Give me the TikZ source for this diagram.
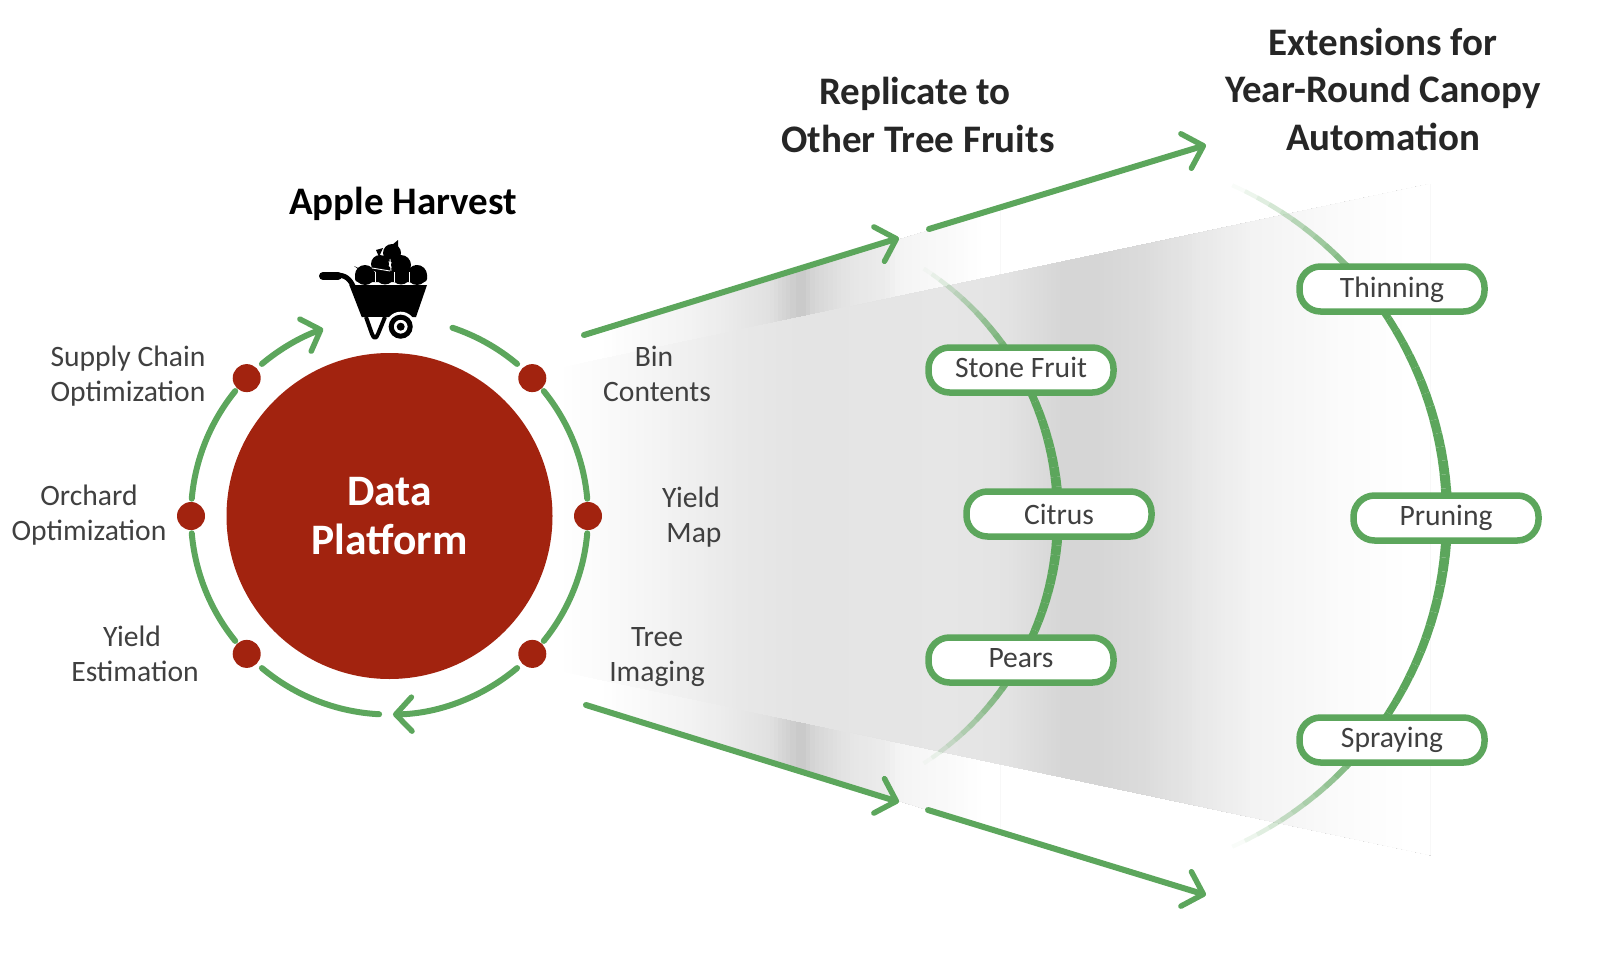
\documentclass[tikz,border=0pt]{standalone}
\usepackage{fontspec}
\setmainfont{Carlito}
\usetikzlibrary{arrows.meta,calc}
\definecolor{lg}{HTML}{5CA65C}
\definecolor{rd}{HTML}{A2230F}
\definecolor{txt}{HTML}{404040}
\definecolor{ttl}{HTML}{262626}
\newcommand{\gradslices}[1]{%
  \foreach \xa/\na/\xb/\nb in {#1}{
    \pgfmathtruncatemacro{\st}{max(1,(\xb-\xa)/4)}
    \foreach \k in {1,...,\st}{
      \pgfmathsetmacro{\xx}{\xa+(\xb-\xa)*(\k-1)/\st}
      \pgfmathsetmacro{\nn}{\na+(\nb-\na)*(\k-0.5)/\st}
      \fill[black!\nn] (\xx,-100) rectangle (1500,-900);
    }
  }
  \fill[white] (\gradend,-100) rectangle (1500,-900);}
\newcommand{\fadearc}[5]{% cx, cy, R, amax, afade
  \foreach \k in {0,...,59}{
    \pgfmathsetmacro{\aS}{-#4+2*#4*\k/60}
    \pgfmathsetmacro{\aE}{-#4+2*#4*(\k+1)/60}
    \pgfmathsetmacro{\aM}{abs(\aS+\aE)/2}
    \pgfmathsetmacro{\op}{min(1,(#4-\aM)/(#4-#5))}
    \pgfmathsetmacro{\wd}{10.5-6.5*\aM/#4}
    \draw[line width=\wd pt,lg,opacity=\op] (#1,#2) ++(\aS:#3) arc[start angle=\aS,end angle=\aE,radius=#3];
  }}
\tikzset{
  ringarc/.style={line width=6pt,lg,line cap=round},
  fanarrow/.style={line width=6pt,lg,line cap=round,-{Straight Barb[length=18pt,width=36pt,line width=5.5pt,round]}},
  ringarrow/.style={line width=6pt,lg,line cap=round,-{Straight Barb[length=16pt,width=34pt,line width=5.5pt,round]}},
  reddot/.style={circle,fill=rd,minimum size=28pt,inner sep=0pt},
  pill/.style={draw=lg,line width=6.5pt,fill=white,rounded corners=21pt,minimum width=185pt,minimum height=45pt,inner sep=0pt,font=\fontsize{29.6}{31}\selectfont,text=txt,text height=20pt,text depth=6pt},
  lab/.style={font=\fontsize{29.6}{35}\selectfont,text=txt,align=center,inner sep=0pt},
  ttlnode/.style={font=\bfseries\fontsize{39}{47.5}\selectfont,text=ttl,align=center,inner sep=0pt}
}
\begin{document}
\begin{tikzpicture}[x=1pt,y=1pt]
\useasboundingbox (0,-955) rectangle (1600,0);
% fans
\def\gradend{985}
\begin{scope}
\clip (584,-335) -- (1000,-209) -- (1000,-277) -- (584,-363) -- cycle;
\gradslices{584/0/600/0,600/0/700/5.5,700/5.5/770/12,770/12/790/18.4,790/18.4/801/21.6,801/21.6/815/16,815/16/850/10,850/10/885/7.5,885/7.5/900/4.3,900/4.3/960/1.5,960/1.5/985/0}
\end{scope}
\begin{scope}
\clip (584,-704) -- (1000,-832) -- (1000,-763) -- (584,-676) -- cycle;
\gradslices{584/0/600/0,600/0/700/5.5,700/5.5/770/12,770/12/790/18.4,790/18.4/801/21.6,801/21.6/815/16,815/16/850/10,850/10/885/7.5,885/7.5/900/4.3,900/4.3/960/1.5,960/1.5/985/0}
\end{scope}
\def\gradend{1410}
\begin{scope}
\clip (560,-368) -- (1430,-184) -- (1430,-855) -- (560,-671) -- cycle;
\gradslices{560/0/640/3.5,640/3.5/700/6.7,700/6.7/740/9,740/9/800/10.6,800/10.6/950/9.8,950/9.8/1000/10.6,1000/10.6/1030/13,1030/13/1060/16,1060/16/1100/16,1100/16/1150/13.7,1150/13.7/1200/9,1200/9/1250/5,1250/5/1330/2,1330/2/1410/0}
\end{scope}
% curved tracks
\fadearc{763}{-516}{295}{57}{30}
\fadearc{1085}{-516}{362}{66}{37}
% fan arrows
\coordinate (u1) at (584,-335);\coordinate (u2) at (899,-238);
\coordinate (u3) at (929,-229);\coordinate (u4) at (1206,-145);
\coordinate (l1) at (586,-705);\coordinate (l2) at (899,-802);
\coordinate (l3) at (928,-810);\coordinate (l4) at (1206,-895);
\draw[fanarrow] (u1) -- (u2);
\draw[fanarrow] (u3) -- (u4);
\draw[fanarrow] (l1) -- (l2);
\draw[fanarrow] (l3) -- (l4);
% core
\coordinate (c) at (389.5,-516);
\node[circle,fill=rd,minimum size=326pt,inner sep=0pt,text=white,align=center,font=\bfseries\fontsize{43.5}{49}\selectfont] (core) at (c) {Data\\Platform};
\foreach \n/\a in {d0/0,d45/44,d135/136,d180/180,d225/224,d315/316}{
  \node[reddot] (\n) at ($(c)+(\a:198.5)$) {};
}
\draw[ringarc] ($(c)+(5:198.5)$) arc[start angle=5,end angle=39,radius=198.5];
\draw[ringarc] ($(c)+(50:198.5)$) arc[start angle=50,end angle=71.5,radius=198.5];
\draw[ringarrow] ($(c)+(130:198.5)$) arc[start angle=130,end angle=109.5,radius=198.5];
\draw[ringarc] ($(c)+(141:198.5)$) arc[start angle=141,end angle=175,radius=198.5];
\draw[ringarc] ($(c)+(185:198.5)$) arc[start angle=185,end angle=219,radius=198.5];
\draw[ringarc] ($(c)+(230:198.5)$) arc[start angle=230,end angle=267,radius=198.5];
\draw[ringarrow] ($(c)+(310:198.5)$) arc[start angle=310,end angle=271,radius=198.5];
\draw[ringarc] ($(c)+(321:198.5)$) arc[start angle=321,end angle=355,radius=198.5];
% wheelbarrow icon
\draw[line width=8pt,line cap=round] (323,-276) -- (338,-276);
\draw[line width=5pt,line cap=round] (336,-275) .. controls (346,-275) and (350,-279) .. (354,-288);
\fill[rounded corners=3pt] (355,-282) rectangle (427,-272);
\foreach \x/\y/\r in {365/-275/10,385/-275/9.5,401/-275/9.5,417/-275/10,380/-264/9,401/-265/10,392/-253/9}{
  \fill (\x,\y) circle[radius=\r];
}
\foreach \x in {375.5,394,409}{
  \draw[white,line width=0.9pt] (\x,-282) -- (\x,-272);
}
\draw[white,line width=0.9pt] (372,-268) -- (390,-271);
\draw[white,line width=0.9pt] (390,-259) -- (391,-271);
\fill (392,-245) -- (398,-240) -- (398,-247) -- cycle;
\fill (358,-268) -- (354,-266) -- (362,-272) -- cycle;
\fill (415,-265) -- (417,-272) -- (421,-266) -- cycle;
\fill (376,-250) -- (379,-257) -- (383,-248) -- cycle;
\fill (349.3,-285) -- (427,-285) -- (416,-317) -- (361.7,-317) -- cycle;
\draw[line width=4pt,line join=round,fill=white] (366,-317) -- (372,-334) .. controls (374,-339) and (376,-339) .. (378,-334) -- (385,-317);
\fill[white] (400.7,-326.7) circle[radius=15];
\fill[white,draw=black,line width=5pt] (400.7,-326.7) circle[radius=9.5];
\fill (400.7,-326.7) circle[radius=4];
% pills
\node[pill] (stone) at (1021,-370) {Stone Fruit};
\node[pill,text depth=0pt] (citrus) at (1059,-514) {Citrus};
\node[pill] (pears) at (1021,-660) {Pears};
\node[pill,text depth=3pt] (thin) at (1392,-289) {Thinning};
\node[pill] (prune) at (1446,-518) {Pruning};
\node[pill] (spray) at (1392,-740) {Spraying};
% labels
\node[lab] (l_sc) at (128,-376) {Supply Chain\\Optimization};
\node[lab] (l_oo) at (89,-515) {Orchard\\Optimization};
\node[lab] (l_ye) at (135,-654) {Yield\kern6pt\\Estimation};
\node[lab] (l_bc) at (657,-374) {Bin\kern6pt\\Contents};
\node[lab] (l_ym) at (694,-517) {Yield\kern6pt\\Map};
\node[lab] (l_ti) at (657,-657) {Tree\\Imaging};
% titles
\node[ttlnode,text=black] (t_ah) at (403,-204) {Apple Harvest};
\node[ttlnode] (t_rep) at (918,-115) {Replicate to\kern6pt\\Other Tree Fruits};
\node[ttlnode] (t_ext) at (1383,-89) {Extensions for\\Year-Round Canopy\\Automation};
\end{tikzpicture}
\end{document}
